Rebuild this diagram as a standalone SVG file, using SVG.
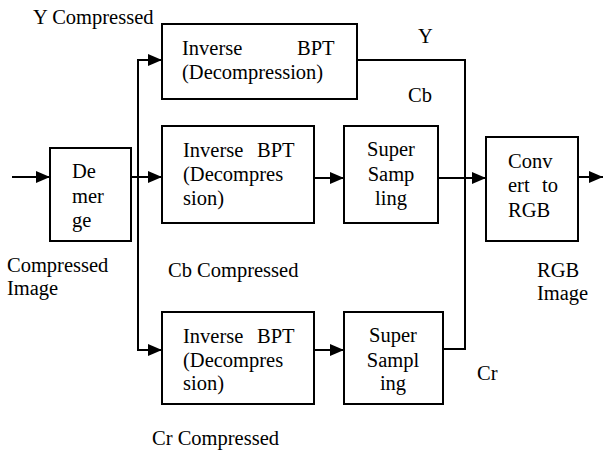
<svg xmlns="http://www.w3.org/2000/svg" width="603" height="454" viewBox="0 0 603 454">
<style>
text{font-family:"Liberation Serif","Times New Roman",Tinos,"DejaVu Serif",serif;font-size:20.5px;fill:#000}
.c{text-anchor:middle}
.box{fill:#fff;stroke:#000;stroke-width:2}
.ln{fill:none;stroke:#000;stroke-width:2}
</style>
<defs>
<marker id="ah" markerWidth="14" markerHeight="12" refX="14" refY="6" orient="auto" markerUnits="userSpaceOnUse">
<path d="M0,0 L14,6 L0,12 Z" fill="#000"/>
</marker>
</defs>
<g id="connectors">
<line class="ln" x1="12" y1="177" x2="50" y2="177" marker-end="url(#ah)"/>
<line class="ln" x1="131" y1="177" x2="162" y2="177" marker-end="url(#ah)"/>
<path class="ln" d="M162,60 H138 V350 H162" marker-end="url(#ah)"/>
<path class="ln" d="M138,60 H162" marker-end="url(#ah)"/>
<line class="ln" x1="314" y1="178" x2="344" y2="178" marker-end="url(#ah)"/>
<line class="ln" x1="314" y1="350" x2="344" y2="350" marker-end="url(#ah)"/>
<path class="ln" d="M357,60 H465 V349 H443"/>
<line class="ln" x1="430" y1="178" x2="486" y2="178" marker-end="url(#ah)"/>
<line class="ln" x1="578" y1="177" x2="603" y2="177" marker-end="url(#ah)"/>
</g>
<g id="demerge">
<rect class="box" x="50" y="148" width="81" height="93"/>
<text x="72" y="178">De</text>
<text x="72" y="203">mer</text>
<text x="72" y="227">ge</text>
</g>
<g id="inv-y">
<rect class="box" x="162" y="24" width="195" height="75"/>
<text x="182" y="55">Inverse</text>
<text x="297" y="55">BPT</text>
<text x="182" y="79">(Decompression)</text>
</g>
<g id="inv-cb">
<rect class="box" x="162" y="126" width="152" height="97"/>
<text x="183" y="157">Inverse</text>
<text x="257" y="157">BPT</text>
<text x="183" y="181">(Decompres</text>
<text x="183" y="205">sion)</text>
</g>
<g id="ss-cb">
<rect class="box" x="344" y="126" width="94" height="97"/>
<text class="c" x="391" y="156">Super</text>
<text class="c" x="391" y="181">Samp</text>
<text class="c" x="391" y="205">ling</text>
</g>
<g id="convert">
<rect class="box" x="486" y="137" width="92" height="104"/>
<text x="508" y="168">Conv</text>
<text y="192"><tspan x="508">ert</tspan><tspan x="542">to</tspan></text>
<text x="508" y="217">RGB</text>
</g>
<g id="inv-cr">
<rect class="box" x="162" y="312" width="152" height="92"/>
<text x="183" y="343">Inverse</text>
<text x="257" y="343">BPT</text>
<text x="183" y="367">(Decompres</text>
<text x="183" y="390">sion)</text>
</g>
<g id="ss-cr">
<rect class="box" x="344" y="312" width="99" height="92"/>
<text class="c" x="393" y="342">Super</text>
<text class="c" x="393" y="367">Sampl</text>
<text class="c" x="393" y="390">ing</text>
</g>
<g id="labels">
<text x="33" y="24">Y Compressed</text>
<text x="418" y="43">Y</text>
<text x="408" y="102">Cb</text>
<text x="7" y="272">Compressed</text>
<text x="7" y="295">Image</text>
<text x="168" y="277">Cb Compressed</text>
<text x="537" y="277">RGB</text>
<text x="537" y="300">Image</text>
<text x="477" y="380">Cr</text>
<text x="152" y="445">Cr Compressed</text>
</g>
</svg>
